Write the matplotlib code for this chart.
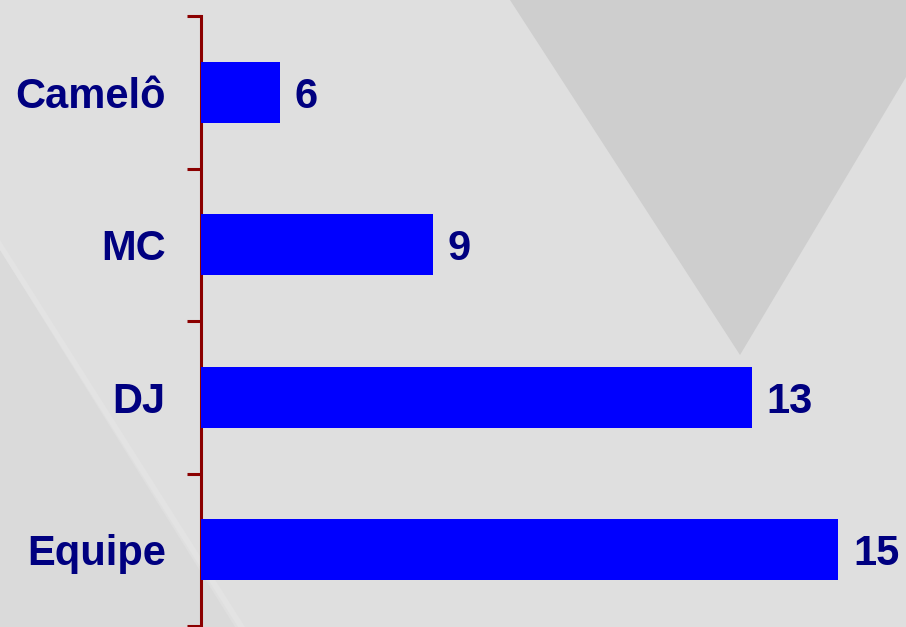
import numpy as np
import matplotlib.pyplot as plt
from matplotlib.patches import Polygon

categories = ["Equipe", "DJ", "MC", "Camelô"]
values = [15, 13, 9, 6]
# bar lengths as drawn in the original chart
bar_lengths = [15, 12.97, 5.46, 1.86]

W, H = 906, 627
fig = plt.figure(figsize=(W / 100, H / 100), dpi=100)
fig.patch.set_facecolor("#dfdfdf")


def px(points):
    return [(x / W, 1 - y / H) for x, y in points]


# background decoration
fig.patches.append(Polygon(px([(0, 250), (235, 627), (0, 627)]), closed=True,
                           transform=fig.transFigure, facecolor="#dadada",
                           edgecolor="none", zorder=-10))
fig.patches.append(Polygon(px([(0, 240), (245, 627), (238, 627), (0, 250)]), closed=True,
                           transform=fig.transFigure, facecolor="#e3e3e3",
                           edgecolor="none", zorder=-10))
fig.patches.append(Polygon(px([(510, 0), (906, 0), (906, 77), (740, 355)]), closed=True,
                           transform=fig.transFigure, facecolor="#cecece",
                           edgecolor="none", zorder=-10))

ax = fig.add_axes([200.5 / W, 1 / H, (W - 200.5) / W, 610 / H])
ax.set_zorder(1)
ax.patch.set_alpha(0)

y = np.arange(len(categories))
ax.barh(y, bar_lengths, height=0.4, color="#0000ff", zorder=3)
for yi, L, v in zip(y, bar_lengths, values):
    ax.text(L + 15 / 42.5, yi, str(v), va="center_baseline", ha="left",
            fontsize=30, fontweight="bold", color="#000080",
            family="Liberation Sans")

ax.set_xlim(0, (W - 200.5) / 42.5)
ax.set_ylim(-0.5, len(categories) - 0.5)

ax.set_yticks(np.arange(-0.5, len(categories), 1))
ax.set_yticklabels([""] * (len(categories) + 1))
ax.set_yticks(y, minor=True)
ax.set_yticklabels(categories, minor=True, fontsize=30, fontweight="bold",
                   color="#000080", family="Liberation Sans",
                   va="center_baseline")
ax.tick_params(axis="y", which="major", length=10, width=2.2, color="#8b0000")
ax.tick_params(axis="y", which="minor", length=0, pad=25)
ax.set_xticks([])

for s in ["top", "right", "bottom"]:
    ax.spines[s].set_visible(False)
ax.spines["left"].set_color("#8b0000")
ax.spines["left"].set_linewidth(2.2)

fig.savefig("out.png", dpi=100, facecolor=fig.get_facecolor())
